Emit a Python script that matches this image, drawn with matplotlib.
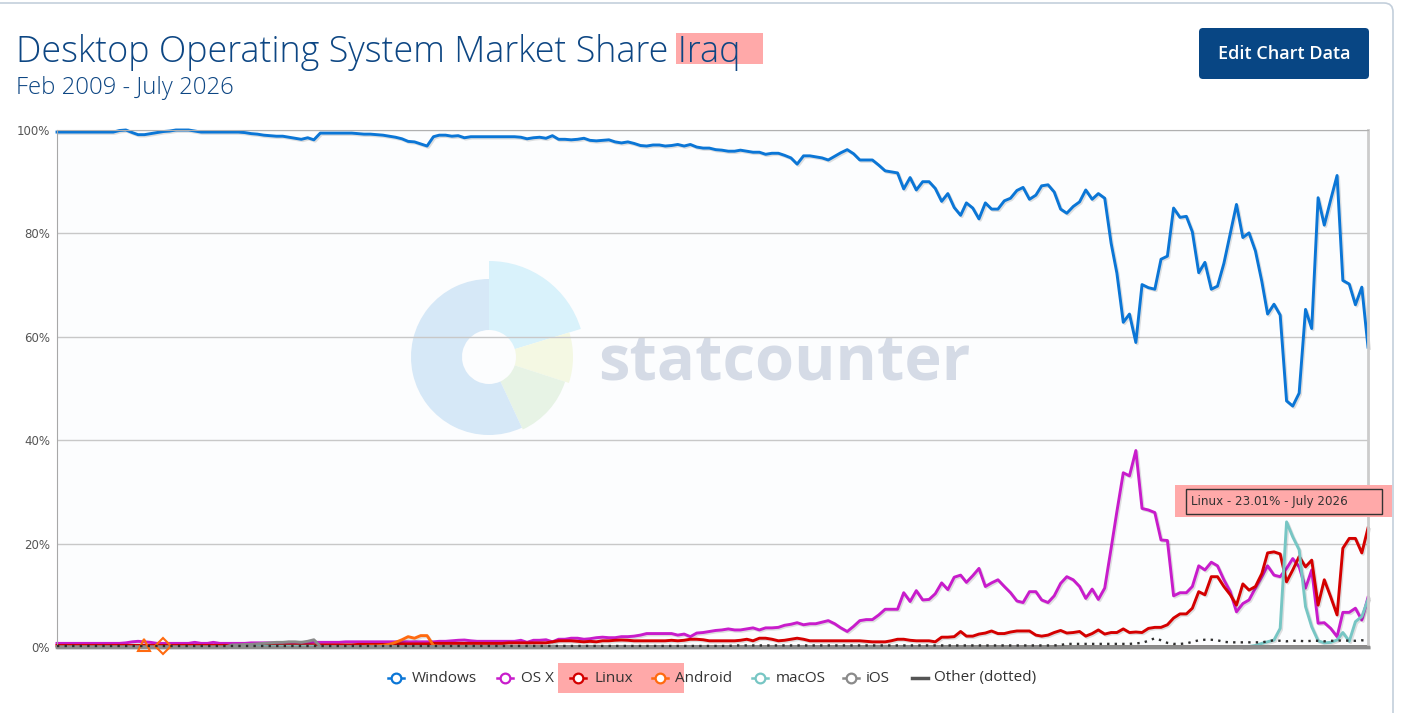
import numpy as np
import pandas as pd
import matplotlib.pyplot as plt
import matplotlib.patheffects as pe
from matplotlib.patches import Rectangle, FancyBboxPatch, Wedge
from matplotlib.lines import Line2D

nan = np.nan
W, H = 1423, 713

# monthly data, Feb 2009 .. July 2026
months = pd.date_range("2009-02-01", periods=210, freq="MS")

windows = [
    99.6, 99.6, 99.6, 99.6, 99.6, 99.6, 99.6, 99.6, 99.6, 99.6, 99.9, 100.0,
    99.5, 99.1, 99.1, 99.3, 99.5, 99.7, 99.8, 100.0, 100.0, 100.0, 99.8, 99.6,
    99.6, 99.6, 99.6, 99.6, 99.6, 99.6, 99.5, 99.3, 99.2, 99.0, 98.9, 98.8,
    98.8, 98.6, 98.4, 98.2, 98.5, 98.1, 99.4, 99.4, 99.4, 99.4, 99.4, 99.4,
    99.3, 99.2, 99.2, 99.1, 99.0, 98.8, 98.6, 98.3, 97.8, 97.7, 97.3, 96.9,
    98.7, 99.0, 99.0, 98.8, 98.9, 98.5, 98.7, 98.7, 98.7, 98.7, 98.7, 98.7,
    98.7, 98.7, 98.6, 98.3, 98.5, 98.6, 98.4, 98.9, 98.2, 98.2, 98.1, 98.2,
    98.4, 98.0, 97.9, 98.0, 98.1, 97.7, 97.5, 97.7, 97.4, 97.0, 96.9, 97.1,
    97.1, 96.9, 97.0, 97.2, 96.9, 97.2, 96.7, 96.5, 96.5, 96.2, 96.1, 95.9,
    95.9, 96.1, 95.9, 95.7, 95.7, 95.3, 95.5, 95.5, 95.1, 94.6, 93.4, 95.0,
    95.0, 94.8, 94.6, 94.2, 94.9, 95.6, 96.2, 95.4, 94.2, 94.2, 94.2, 93.2,
    92.1, 91.9, 91.7, 88.6, 90.8, 88.4, 90.0, 90.0, 88.7, 86.2, 87.7, 85.0,
    83.5, 85.9, 84.9, 82.8, 85.9, 84.7, 84.7, 86.3, 86.8, 88.3, 88.9, 86.6,
    87.4, 89.2, 89.4, 88.0, 84.7, 83.9, 85.2, 86.1, 88.4, 86.6, 87.7, 86.8,
    78.1, 72.3, 62.8, 64.4, 58.9, 70.1, 69.5, 69.2, 75.0, 75.6, 84.9, 83.1,
    83.3, 80.3, 72.4, 74.4, 69.2, 69.8, 74.2, 80.0, 85.6, 79.2, 80.1, 76.6,
    70.7, 64.4, 66.3, 64.2, 47.6, 46.6, 49.1, 65.3, 61.6, 86.9, 81.6, 86.5,
    91.2, 70.9, 70.2, 66.2, 69.6, 58.0,
]

osx = [
    0.7, 0.7, 0.7, 0.7, 0.7, 0.7, 0.7, 0.7, 0.7, 0.7, 0.7, 0.8,
    1.0, 1.1, 1.0, 0.9, 0.7, 0.7, 0.7, 0.7, 0.7, 0.7, 0.9, 0.7,
    0.7, 0.9, 0.7, 0.7, 0.7, 0.7, 0.7, 0.8, 0.8, 0.8, 0.8, 0.8,
    0.8, 0.9, 0.8, 0.9, 0.8, 0.9, 0.9, 0.9, 0.9, 0.9, 1.0, 1.0,
    1.0, 1.0, 1.0, 1.0, 1.0, 1.0, 1.0, 1.0, 1.0, 1.0, 1.0, 1.0,
    1.0, 1.1, 1.1, 1.2, 1.3, 1.35, 1.2, 1.1, 1.1, 1.1, 1.1, 1.1,
    1.1, 1.1, 1.3, 0.9, 1.3, 1.3, 1.4, 1.0, 1.5, 1.5, 1.7, 1.7,
    1.5, 1.6, 1.8, 1.9, 1.8, 1.8, 2.0, 2.0, 2.1, 2.3, 2.6, 2.6,
    2.6, 2.6, 2.6, 2.3, 2.5, 2.0, 2.7, 2.8, 3.0, 3.2, 3.3, 3.5,
    3.3, 3.3, 3.5, 3.7, 3.3, 3.7, 3.7, 3.8, 4.2, 4.4, 4.7, 4.3,
    4.5, 4.5, 4.8, 5.1, 4.5, 3.7, 3.0, 4.0, 5.1, 5.3, 5.3, 6.2,
    7.3, 7.3, 7.3, 10.5, 8.8, 10.9, 9.1, 9.2, 10.3, 12.4, 11.1, 13.5,
    13.9, 12.5, 13.8, 15.2, 11.7, 12.4, 13.0, 11.7, 10.5, 8.9, 8.6, 10.7,
    10.7, 9.1, 8.6, 9.9, 12.3, 13.6, 13.0, 11.7, 9.4, 11.2, 9.2, 11.4,
    19.1, 26.2, 33.7, 33.1, 38.0, 26.8, 26.5, 26.0, 20.7, 20.6, 9.9, 10.5,
    10.5, 11.7, 15.7, 14.9, 16.4, 15.7, 13.0, 10.7, 6.8, 8.4, 9.1, 11.4,
    13.6, 15.7, 13.9, 13.6, 15.2, 17.1, 15.5, 11.4, 14.9, 4.6, 4.7, 3.6,
    2.0, 6.7, 6.7, 7.5, 5.2, 9.6,
]

linux = [
    0.3, 0.3, 0.3, 0.3, 0.3, 0.3, 0.3, 0.3, 0.3, 0.3, 0.3, 0.3,
    0.3, 0.3, 0.3, 0.3, 0.3, 0.3, 0.3, 0.3, 0.3, 0.3, 0.3, 0.3,
    0.3, 0.3, 0.3, 0.3, 0.3, 0.3, 0.3, 0.3, 0.3, 0.3, 0.3, 0.3,
    0.4, 0.4, 0.4, 0.4, 0.4, 0.4, 0.4, 0.4, 0.4, 0.4, 0.4, 0.4,
    0.5, 0.5, 0.5, 0.5, 0.5, 0.5, 0.6, 0.6, 0.6, 0.6, 0.6, 0.6,
    0.7, 0.7, 0.7, 0.7, 0.7, 0.7, 0.7, 0.7, 0.7, 0.7, 0.7, 0.7,
    0.8, 0.8, 0.8, 0.8, 0.8, 0.8, 0.8, 1.0, 1.2, 1.2, 1.2, 1.1,
    1.0, 1.1, 1.0, 1.2, 1.2, 1.3, 1.35, 1.3, 1.2, 1.2, 1.2, 1.2,
    1.2, 1.2, 1.3, 1.2, 1.3, 1.5, 1.5, 1.4, 1.2, 1.2, 1.2, 1.2,
    1.2, 1.3, 1.5, 1.2, 1.7, 1.7, 1.5, 1.2, 1.3, 1.5, 1.7, 1.5,
    1.2, 1.2, 1.2, 1.2, 1.2, 1.2, 1.2, 1.2, 1.2, 1.1, 1.0, 1.0,
    1.0, 1.2, 1.5, 1.5, 1.3, 1.2, 1.2, 1.2, 1.0, 1.9, 1.9, 2.0,
    3.0, 2.1, 2.1, 2.5, 2.7, 3.1, 2.6, 2.6, 2.9, 3.1, 3.1, 3.1,
    2.3, 2.1, 2.3, 2.8, 3.2, 2.7, 2.8, 3.0, 2.1, 2.6, 3.3, 2.5,
    2.8, 2.8, 3.5, 2.8, 2.9, 2.8, 3.6, 3.8, 3.8, 4.3, 5.6, 6.4,
    6.4, 7.5, 10.7, 10.1, 13.6, 13.6, 11.7, 10.1, 8.1, 12.2, 11.0, 11.7,
    14.2, 18.2, 18.4, 18.0, 12.6, 14.9, 17.5, 15.5, 16.8, 8.1, 13.0, 9.7,
    6.2, 19.1, 21.0, 21.0, 18.2, 23.01,
]

android = [
    nan, nan, nan, nan, nan, nan, nan, nan, nan, nan, nan, nan,
    nan, nan, 0.4, nan, nan, 0.2, nan, nan, nan, nan, nan, nan,
    nan, nan, nan, nan, nan, nan, nan, nan, nan, nan, nan, nan,
    nan, nan, nan, nan, nan, nan, nan, nan, nan, nan, nan, nan,
    0.1, 0.1, 0.2, 0.2, 0.3, 0.5, 0.9, 1.4, 2.0, 1.7, 2.2, 2.2,
    0.3, 0.1, 0.1, 0.1, 0.1, 0.1, 0.1, 0.1, 0.1, 0.1, 0.1, 0.1,
    0.1, 0.1, 0.1, 0.1, 0.1, 0.1, 0.1, 0.1, 0.1, 0.1, 0.1, 0.1,
    0.1, 0.1, 0.1, 0.1, 0.1, 0.1, 0.1, 0.1, 0.1, 0.1, 0.1, 0.1,
    0.1, 0.1, 0.1, 0.1, 0.1, 0.1, 0.1, 0.1, 0.1, 0.1, 0.1, 0.1,
    0.1, 0.1, 0.1, 0.1, 0.1, 0.1, 0.1, 0.1, 0.1, 0.1, 0.1, 0.1,
    0.1, 0.1, 0.1, 0.1, 0.1, 0.1, 0.1, 0.1, 0.1, 0.1, 0.1, 0.1,
    0.1, 0.1, 0.1, 0.1, 0.1, 0.1, 0.1, 0.1, 0.1, 0.1, 0.1, 0.1,
    0.1, 0.1, 0.1, 0.1, 0.1, 0.1, 0.1, 0.1, 0.1, 0.1, 0.1, 0.1,
    0.1, 0.1, 0.1, 0.1, 0.1, 0.1, 0.1, 0.1, 0.1, 0.1, 0.1, 0.1,
    0.1, 0.1, 0.1, 0.1, 0.1, 0.1, 0.1, 0.1, 0.1, 0.1, 0.1, 0.1,
    0.1, 0.1, 0.1, 0.1, 0.1, 0.1, 0.1, 0.1, 0.1, 0.1, 0.1, 0.1,
    0.1, 0.1, 0.1, 0.1, 0.1, 0.1, 0.1, 0.1, 0.1, 0.1, 0.1, 0.1,
    0.1, 0.1, 0.1, 0.1, 0.1, 0.1,
]

macos = [
    nan, nan, nan, nan, nan, nan, nan, nan, nan, nan, nan, nan,
    nan, nan, nan, nan, nan, nan, nan, nan, nan, nan, nan, nan,
    nan, nan, nan, nan, 0.15, 0.15, 0.15, 0.15, 0.15, 0.15, 0.15, 0.15,
    0.15, 0.15, 0.15, 0.15, 0.15, 0.15, nan, nan, nan, nan, nan, nan,
    nan, nan, nan, nan, nan, nan, nan, nan, nan, nan, nan, nan,
    nan, nan, nan, nan, nan, nan, nan, nan, nan, nan, nan, nan,
    nan, nan, nan, nan, nan, nan, nan, nan, nan, nan, nan, nan,
    nan, nan, nan, nan, nan, nan, nan, nan, nan, nan, nan, nan,
    nan, nan, nan, nan, nan, nan, nan, nan, nan, nan, nan, nan,
    nan, nan, nan, nan, nan, nan, nan, nan, nan, nan, nan, nan,
    nan, nan, nan, nan, nan, nan, nan, nan, nan, nan, nan, nan,
    nan, nan, nan, nan, nan, nan, nan, nan, nan, nan, nan, nan,
    nan, nan, nan, nan, nan, nan, nan, nan, nan, nan, nan, nan,
    nan, nan, nan, nan, nan, nan, nan, nan, nan, nan, nan, nan,
    nan, nan, nan, nan, nan, nan, nan, nan, nan, nan, nan, nan,
    nan, nan, nan, nan, nan, nan, nan, nan, nan, 0.0, 0.1, 0.3,
    0.7, 1.0, 1.35, 3.6, 24.2, 21.3, 18.8, 7.8, 3.9, 1.2, 0.8, 0.9,
    1.35, 2.8, 1.1, 4.9, 5.9, 9.2,
]

ios = [
    0.05, 0.05, 0.05, 0.05, 0.05, 0.05, 0.05, 0.05, 0.05, 0.05, 0.05, 0.05,
    0.05, 0.05, 0.05, 0.05, 0.05, 0.05, 0.05, 0.05, 0.05, 0.05, 0.05, 0.05,
    0.05, 0.05, 0.05, 0.05, 0.4, 0.4, 0.5, 0.5, 0.6, 0.7, 0.8, 0.9,
    0.9, 1.0, 1.0, 0.9, 1.1, 1.4, 0.1, 0.1, 0.1, 0.1, 0.1, 0.1,
    0.1, 0.1, 0.1, 0.1, 0.1, 0.1, 0.1, 0.1, 0.1, 0.1, 0.1, 0.1,
    0.1, 0.1, 0.1, 0.1, 0.1, 0.1, 0.1, 0.1, 0.1, 0.1, 0.1, 0.1,
    0.1, 0.1, 0.1, 0.1, 0.1, 0.1, 0.1, 0.1, 0.1, 0.1, 0.1, 0.1,
    0.1, 0.1, 0.1, 0.1, 0.1, 0.1, 0.1, 0.1, 0.1, 0.1, 0.1, 0.1,
    0.1, 0.1, 0.1, 0.1, 0.1, 0.1, 0.1, 0.1, 0.1, 0.1, 0.1, 0.1,
    0.1, 0.1, 0.1, 0.1, 0.1, 0.1, 0.1, 0.1, 0.1, 0.1, 0.1, 0.1,
    0.1, 0.1, 0.1, 0.1, 0.1, 0.1, 0.1, 0.1, 0.1, 0.1, 0.1, 0.1,
    0.1, 0.1, 0.1, 0.1, 0.1, 0.1, 0.1, 0.1, 0.1, 0.1, 0.1, 0.1,
    0.1, 0.1, 0.1, 0.1, 0.1, 0.1, 0.1, 0.1, 0.1, 0.1, 0.1, 0.1,
    0.1, 0.1, 0.1, 0.1, 0.1, 0.1, 0.1, 0.1, 0.1, 0.1, 0.1, 0.1,
    0.1, 0.1, 0.1, 0.1, 0.1, 0.1, 0.1, 0.1, 0.1, 0.1, 0.1, 0.1,
    0.1, 0.1, 0.1, 0.1, 0.1, 0.1, 0.1, 0.1, 0.1, 0.1, 0.1, 0.1,
    0.1, 0.1, 0.1, 0.1, 0.1, 0.1, 0.1, 0.1, 0.1, 0.1, 0.1, 0.1,
    0.1, 0.1, 0.1, 0.1, 0.1, 0.1,
]

other = [
    0.2, 0.2, 0.2, 0.2, 0.2, 0.2, 0.2, 0.2, 0.2, 0.2, 0.2, 0.2,
    0.2, 0.2, 0.2, 0.2, 0.2, 0.2, 0.2, 0.2, 0.2, 0.2, 0.2, 0.2,
    0.2, 0.2, 0.2, 0.2, 0.2, 0.2, 0.2, 0.2, 0.2, 0.2, 0.2, 0.2,
    0.2, 0.2, 0.2, 0.2, 0.2, 0.2, 0.2, 0.2, 0.2, 0.2, 0.2, 0.2,
    0.2, 0.2, 0.2, 0.2, 0.2, 0.2, 0.2, 0.2, 0.2, 0.2, 0.2, 0.2,
    0.2, 0.2, 0.2, 0.2, 0.2, 0.2, 0.2, 0.2, 0.2, 0.2, 0.2, 0.2,
    0.2, 0.2, 0.2, 0.2, 0.2, 0.2, 0.2, 0.2, 0.2, 0.2, 0.2, 0.2,
    0.2, 0.2, 0.2, 0.2, 0.2, 0.2, 0.2, 0.2, 0.2, 0.2, 0.2, 0.2,
    0.2, 0.2, 0.2, 0.2, 0.2, 0.2, 0.2, 0.2, 0.2, 0.2, 0.2, 0.2,
    0.3, 0.3, 0.3, 0.3, 0.3, 0.3, 0.3, 0.3, 0.3, 0.3, 0.3, 0.3,
    0.3, 0.3, 0.3, 0.3, 0.3, 0.3, 0.3, 0.3, 0.3, 0.3, 0.3, 0.3,
    0.3, 0.3, 0.3, 0.3, 0.3, 0.3, 0.3, 0.3, 0.3, 0.3, 0.3, 0.3,
    0.3, 0.3, 0.3, 0.3, 0.3, 0.3, 0.3, 0.3, 0.3, 0.3, 0.3, 0.3,
    0.3, 0.3, 0.3, 0.3, 0.4, 0.6, 0.6, 0.6, 0.6, 0.6, 0.6, 0.6,
    0.6, 0.6, 0.6, 0.6, 0.7, 0.8, 1.2, 1.7, 1.3, 0.8, 0.6, 0.6,
    0.7, 1.0, 1.3, 1.4, 1.4, 1.3, 1.0, 0.9, 0.9, 0.9, 0.9, 0.9,
    0.9, 1.1, 1.3, 1.2, 1.1, 1.2, 1.2, 1.1, 1.2, 1.2, 1.1, 1.2,
    1.2, 1.3, 1.2, 1.2, 1.3, 1.2,
]

names = ["Windows", "OS X", "Linux", "Android", "macOS", "iOS", "Other (dotted)"]
series = [windows, osx, linux, android, macos, ios, other]
colors = ["#0b76d6", "#c81ccb", "#d40000", "#ff6a10", "#77c6c4", "#8a8a8a", "#2e2e2e"]

TITLE_BLUE = "#0d4683"


def isolated(vals):
    v = np.array(vals, dtype=float)
    out = []
    for k in range(len(v)):
        if np.isnan(v[k]):
            continue
        left = k == 0 or np.isnan(v[k - 1])
        right = k == len(v) - 1 or np.isnan(v[k + 1])
        if left and right:
            out.append(k)
    return out


def fit_width(t, target, renderer):
    w = t.get_window_extent(renderer).width
    t.set_fontsize(t.get_fontsize() * target / w)


fig = plt.figure(figsize=(W / 100, H / 100), dpi=100)
renderer = fig.canvas.get_renderer()

# background layer, pixel coordinates
bg = fig.add_axes([0, 0, 1, 1], zorder=0)
bg.set_xlim(0, W)
bg.set_ylim(H, 0)
bg.axis("off")
bg.add_patch(FancyBboxPatch((-30, 3), 1423, 800, boxstyle="round,pad=0,rounding_size=9",
                            ec="#c3cfdb", fc="white", lw=1.2))
bg.add_patch(Rectangle((57, 130), 1311, 517, fc="#fcfdfe", ec="none"))

# statcounter watermark
cx, cy, hole = 489, 357, 27
for t1, t2, r, c in [(-90, -17, 96, "#d9f2fb"), (-17, 18, 84, "#f4f8e3"),
                     (18, 65, 80, "#e7f3e5"), (65, 270, 78, "#d6e8f7")]:
    bg.add_patch(Wedge((cx, cy), r, t1, t2, width=r - hole, fc=c, ec="none"))
wm = bg.text(598, 380, "statcounter", fontsize=45, fontweight="bold",
             family="Open Sans", color="#d5dbe6", va="baseline", ha="left")
fit_width(wm, 372, renderer)

# main chart
ax = fig.add_axes([57 / W, (H - 647) / H, 1311 / W, 517 / H], zorder=1)
ax.set_facecolor("none")
ax.set_xlim(months[0], months[-1])
ax.set_ylim(0, 100)
ax.set_yticks([0, 20, 40, 60, 80, 100])
ax.set_yticklabels([f"{v}%" for v in [0, 20, 40, 60, 80, 100]])
ax.tick_params(axis="y", length=0, pad=5, labelsize=8.5, labelcolor="#555555")
ax.set_xticks([])
ax.yaxis.grid(True, color="#c8c8c8", lw=1)
ax.set_axisbelow(True)
ax.spines["left"].set_color("#a8a8a8")
ax.spines["right"].set_color("#cccccc")
ax.spines["right"].set_linewidth(2)
ax.spines["top"].set_color("#b0b0b0")
ax.spines["bottom"].set_color("#8c8c8c")
ax.spines["bottom"].set_linewidth(2.5)

shadow = [pe.SimpleLineShadow(offset=(1, -1), alpha=0.12, shadow_color="k"), pe.Normal()]
iso_markers = ["^", "D"]
for name, vals, col in zip(names, series, colors):
    if name.startswith("Other"):
        ax.plot(months, vals, color=col, lw=1.7, ls=(0, (1, 2.2)), clip_on=False, zorder=3)
        continue
    ax.plot(months, vals, color=col, lw=2.1, clip_on=False, zorder=2,
            path_effects=shadow, solid_joinstyle="round")
    for n, k in enumerate(isolated(vals)):
        ax.plot(months[k], vals[k], marker=iso_markers[n % 2], mfc="none", mec=col,
                ms=8, mew=1.5, clip_on=False, zorder=3)

# overlay layer, pixel coordinates
ov = fig.add_axes([0, 0, 1, 1], zorder=5)
ov.set_xlim(0, W)
ov.set_ylim(H, 0)
ov.axis("off")
ov.patch.set_alpha(0)

# title with highlight
ov.add_patch(Rectangle((676, 33), 87, 31, fc="#ffa9a9", ec="none"))
tt = ov.text(16, 62, "Desktop Operating System Market Share Iraq", fontsize=29,
             family="Open Sans", fontweight="light", color=TITLE_BLUE, va="baseline")
fit_width(tt, 725, renderer)
st = ov.text(16, 94, "Feb 2009 - July 2026", fontsize=18, family="Open Sans",
             fontweight="light", color=TITLE_BLUE, va="baseline")
fit_width(st, 217, renderer)

# button
ov.add_patch(FancyBboxPatch((1199, 28), 170, 51, boxstyle="round,pad=0,rounding_size=4",
                            fc="#084684", ec="none"))
bt = ov.text(1284, 54, "Edit Chart Data", fontsize=12.5, family="Open Sans",
             fontweight="semibold", color="white", ha="center", va="center")
fit_width(bt, 132, renderer)

# tooltip highlight
ov.add_patch(Rectangle((1175, 485), 217, 32, fc="#ffa9a9", ec="none"))
ov.add_patch(Rectangle((1186, 489), 196, 25, fc="none", ec="#333333", lw=1))
ov.text(1191, 501.5, "Linux - 23.01% - July 2026", fontsize=8.6, color="#333333",
        va="center", ha="left")

# legend
ov.add_patch(Rectangle((558, 663), 126, 30, fc="#ffa9a9", ec="none"))
leg_marker_x = [396, 505, 578, 660, 760, 851, 920]
leg_text_x = [412, 521, 594, 675, 776, 866, 934]
for name, col, mx, tx in zip(names, colors, leg_marker_x, leg_text_x):
    if name.startswith("Other"):
        ov.add_line(Line2D([mx - 8, mx + 8], [678, 678], color="#555555", lw=2.5))
    else:
        ov.add_line(Line2D([mx - 8, mx + 8], [678, 678], color=col, lw=1.8))
        ov.add_line(Line2D([mx], [678], marker="o", ms=7, mfc="white", mec=col, mew=1.6))
    ov.text(tx, 678, name, fontsize=11, family="Open Sans", color="#333333",
            va="center", ha="left")

fig.savefig("out.png", dpi=100)
